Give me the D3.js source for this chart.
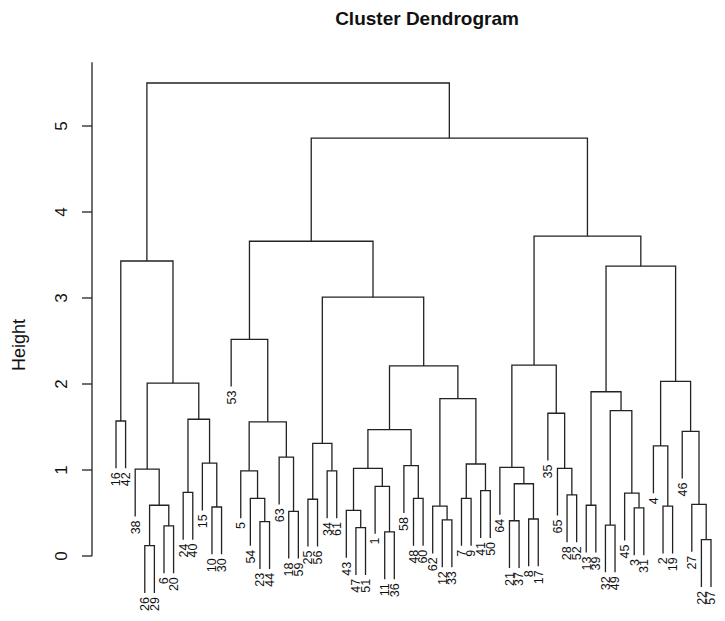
<!DOCTYPE html>
<html>
<head>
<meta charset="utf-8">
<script src="https://cdn.jsdelivr.net/npm/d3@7"></script>
<style>
  body { margin: 0; background: #fff; }
  svg { display: block; font-family: "Liberation Sans", Arial, sans-serif; }
</style>
</head>
<body>
<svg id="chart" width="725" height="621"></svg>
<script>
// ---- DATA ----
const title = "Cluster Dendrogram";
const yLabel = "Height";
const yTicks = [0, 1, 2, 3, 4, 5];
// R-style merge matrix: negative = leaf label, positive = earlier merge row (1-based)
const mergeLeft  = [-26, -6, 1, -38, -16, -24, -10, -15, 6, 4, 5,
                    -23, -54, -5, -18, -63, 14, -53, -25, -34, 19, -47, -43, -11, -1, 23, -48, -58, 26, -12, -62, -7, -41, 32, 31, 29, 21, 18,
                    -21, -8, 39, -64, -28, -65, -35, 42, -13, -32, -3, -45, 48, 47, -2, -4, -22, -27, -46, 54, 52, 46, 38, 11];
const mergeRight = [-29, -20, 2, 3, -42, -40, -30, 7, 8, 9, 10,
                    -44, 12, 13, -59, 15, 16, 17, -56, -61, 20, -51, 22, -36, 24, 25, -60, 27, 28, -33, 30, -9, -50, 33, 34, 35, 36, 37,
                    -37, -17, 40, 41, -52, 43, 44, 45, -39, -49, -31, 49, 50, 51, -19, 53, -57, 55, 56, 57, 58, 59, 60, 61];
const mergeHeight = [0.12, 0.35, 0.59, 1.01, 1.57, 0.74, 0.57, 1.08, 1.59, 2.01, 3.43,
                     0.40, 0.67, 0.99, 0.52, 1.15, 1.56, 2.52, 0.66, 0.99, 1.31, 0.33, 0.53, 0.28, 0.81, 1.02, 0.67, 1.05, 1.47, 0.42, 0.58, 0.67, 0.76, 1.07, 1.83, 2.21, 3.01, 3.66,
                     0.41, 0.43, 0.84, 1.03, 0.71, 1.02, 1.66, 2.22, 0.59, 0.36, 0.56, 0.73, 1.69, 1.91, 0.58, 1.28, 0.19, 0.60, 1.45, 2.03, 3.37, 3.72, 4.86, 5.50];
const hangFraction = 0.1;
const axisTopValue = 5.74;

// ---- BUILD TREE ----
function build(ref) {
  if (ref < 0) return { name: String(-ref), leaf: true };
  const i = ref - 1;
  return { height: mergeHeight[i], children: [build(mergeLeft[i]), build(mergeRight[i])] };
}
const rootData = build(mergeLeft.length);
const root = d3.hierarchy(rootData);
const leaves = root.leaves();
const n = leaves.length;
const maxH = d3.max(mergeHeight);
const hang = hangFraction * maxH;

// ---- SCALES ----
const x = d3.scaleLinear().domain([1, n]).range([116, 711]);
const y = d3.scaleLinear().domain([0, 5]).range([556, 126]);

leaves.forEach((d, i) => { d.px = x(i + 1); });
root.eachAfter(d => {
  if (d.children) {
    d.px = (d.children[0].px + d.children[1].px) / 2;
    d.h = d.data.height;
  }
});
leaves.forEach(d => { d.h = d.parent.data.height - hang; });

const svg = d3.select("#chart");

// ---- TREE SEGMENTS ----
const g = svg.append("g");
const lineStyle = sel => sel.attr("fill", "none").attr("stroke", "#222").attr("stroke-width", 1.3);
root.descendants().filter(d => d.children).forEach(d => {
  const [a, b] = d.children;
  g.append("path")
    .attr("d", `M${a.px},${y(a.h)}V${y(d.h)}H${b.px}V${y(b.h)}`)
    .call(lineStyle);
});

// ---- LEAF LABELS ----
g.selectAll("text.leaf").data(leaves).join("text")
  .attr("class", "leaf")
  .attr("transform", d => `translate(${d.px},${y(d.h) + 4}) rotate(-90)`)
  .attr("text-anchor", "end")
  .attr("dy", "0.35em")
  .attr("font-size", 12.5)
  .attr("fill", "#111")
  .text(d => d.data.name);

// ---- Y AXIS ----
const axisX = 92;
const ax = svg.append("g").attr("transform", `translate(${axisX},0)`);
ax.append("path")
  .attr("d", `M0,${y(0)}V${y(axisTopValue)}`)
  .call(lineStyle);
ax.selectAll("line.tick").data(yTicks).join("line")
  .attr("x1", 0).attr("x2", -10)
  .attr("y1", d => y(d)).attr("y2", d => y(d))
  .call(lineStyle);
ax.selectAll("text.tick").data(yTicks).join("text")
  .attr("transform", d => `translate(-31,${y(d)}) rotate(-90)`)
  .attr("text-anchor", "middle")
  .attr("dy", "0.35em")
  .attr("font-size", 17)
  .attr("fill", "#111")
  .text(d => d);

svg.append("text")
  .attr("transform", `translate(19,${y(2.5) + 4}) rotate(-90)`)
  .attr("text-anchor", "middle")
  .attr("dy", "0.35em")
  .attr("font-size", 18)
  .attr("fill", "#111")
  .text(yLabel);

// ---- TITLE ----
svg.append("text")
  .attr("x", 427).attr("y", 25)
  .attr("text-anchor", "middle")
  .attr("font-size", 19)
  .attr("font-weight", "bold")
  .attr("fill", "#111")
  .text(title);
</script>
</body>
</html>
